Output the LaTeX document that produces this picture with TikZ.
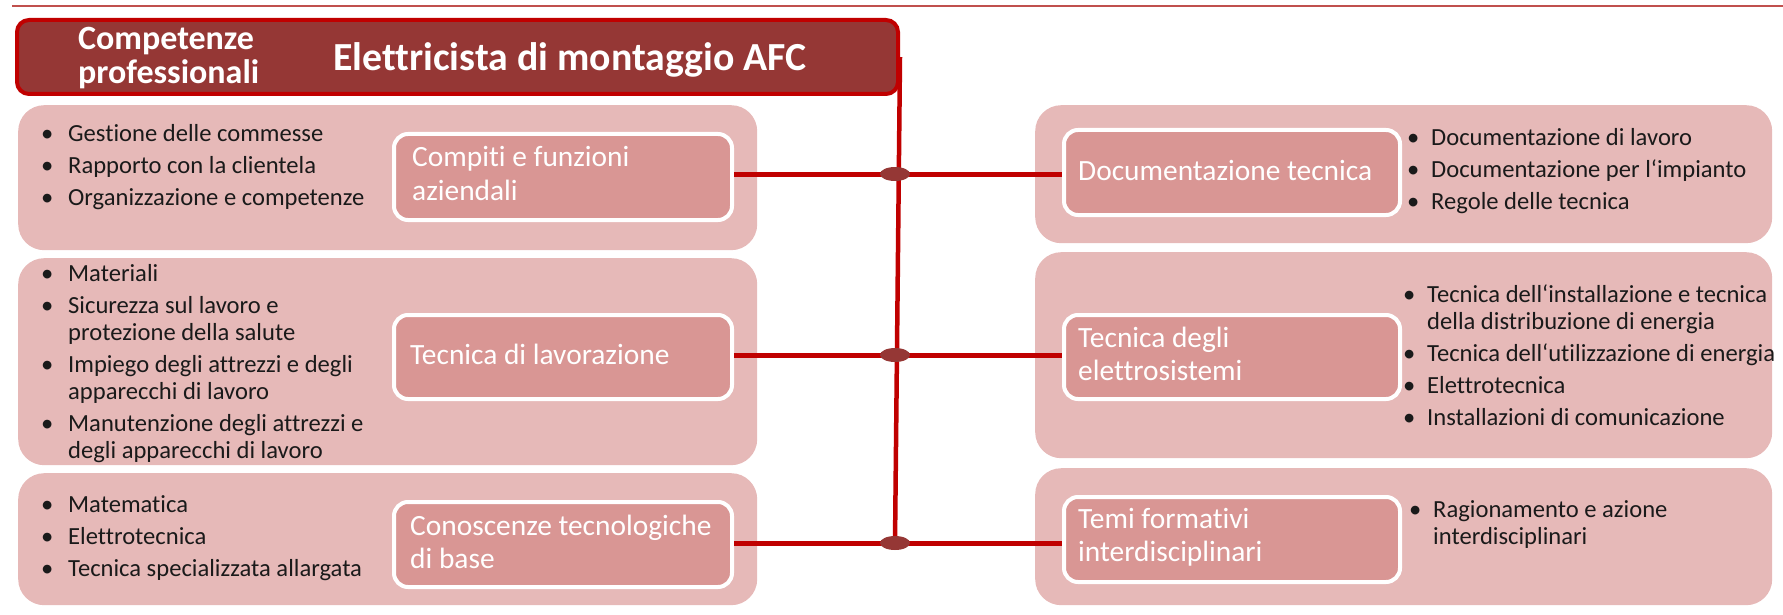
\documentclass[tikz,border=0pt]{standalone}
\usepackage{fontspec}
\setmainfont{Carlito}[Ligatures={NoCommon}]
\usetikzlibrary{shapes.geometric}
\definecolor{hdrfill}{HTML}{953735}
\definecolor{cred}{HTML}{C00000}
\definecolor{panelc}{HTML}{E6B9B8}
\definecolor{innerc}{HTML}{D99694}
\definecolor{toplinec}{HTML}{C0504D}
\definecolor{txtc}{HTML}{1A1A1A}
\newcommand{\bul}{\makebox[27pt][l]{•}}
\newcommand{\nob}{\makebox[27pt][l]{}}
\newcommand{\rbul}{\makebox[24pt][l]{•}}
\newcommand{\rnob}{\makebox[24pt][l]{}}
\begin{document}
\begin{tikzpicture}[x=1pt,y=-1pt,
  panel/.style={fill=panelc, rounded corners=26pt, inner sep=0pt, anchor=north west},
  innerbox/.style={fill=innerc, draw=white, line width=4pt, rounded corners=14pt, inner sep=0pt, anchor=north west},
  conn/.style={draw=cred, line width=5pt},
  junc/.style={ellipse, fill=hdrfill, minimum width=30pt, minimum height=14pt, inner sep=0pt},
  blist/.style={anchor=base west, inner sep=0pt, font=\fontsize{24.6}{27}\selectfont, text=txtc},
  itxt/.style={anchor=base west, inner sep=0pt, font=\fontsize{29.4}{33}\selectfont, text=white},
]
\useasboundingbox (0,0) rectangle (1783,615);
% top rule
\coordinate (tl) at (12,6);
\coordinate (tr) at (1783,6);
\draw[toplinec, line width=2pt] (tl) -- (tr);

% header
\node[fill=hdrfill, draw=cred, line width=4pt, rounded corners=12pt, inner sep=0pt, anchor=north west,
      minimum width=881pt, minimum height=74pt] (hdr) at (15,18) {};
\node[anchor=base west, inner sep=0pt, text=white, font=\fontsize{34}{32}\selectfont\bfseries] (hdrl) at (78,50)
  {\begin{tabular}[t]{@{}l@{}}Competenze\\professionali\end{tabular}};
\node[anchor=base west, inner sep=0pt, text=white, font=\fontsize{39.8}{42}\selectfont\bfseries] (hdrt) at (333,71)
  {Elettricista di montaggio AFC};

% panels
\node[panel, minimum width=739pt, minimum height=145pt] (pl1) at (18,105) {};
\node[panel, minimum width=739pt, minimum height=207pt] (pl2) at (18,258) {};
\node[panel, minimum width=739pt, minimum height=132pt] (pl3) at (18,473) {};
\node[panel, minimum width=737pt, minimum height=138pt] (pr1) at (1035,105) {};
\node[panel, minimum width=737pt, minimum height=206pt] (pr2) at (1035,252) {};
\node[panel, minimum width=737pt, minimum height=137pt] (pr3) at (1035,468) {};

% inner boxes
\node[innerbox, minimum width=338pt, minimum height=86pt] (bl1) at (392,132) {};
\node[innerbox, minimum width=338pt, minimum height=84pt] (bl2) at (392,313) {};
\node[innerbox, minimum width=338pt, minimum height=85pt] (bl3) at (392,500) {};
\node[innerbox, minimum width=336pt, minimum height=85pt] (br1) at (1062,128) {};
\node[innerbox, minimum width=336pt, minimum height=84pt] (br2) at (1062,313) {};
\node[innerbox, minimum width=336pt, minimum height=85pt] (br3) at (1062,495) {};

% inner texts
\node[itxt] (tl1) at (412,167) {\begin{tabular}[t]{@{}l@{}}Compiti e funzioni\\aziendali\end{tabular}};
\node[itxt] (tl2) at (410,364) {Tecnica di lavorazione};
\node[itxt] (tl3) at (410,535) {\begin{tabular}[t]{@{}l@{}}Conoscenze tecnologiche\\di base\end{tabular}};
\node[itxt] (tr1) at (1078,180) {Documentazione tecnica};
\node[itxt] (tr2) at (1078,347) {\begin{tabular}[t]{@{}l@{}}Tecnica degli\\elettrosistemi\end{tabular}};
\node[itxt] (tr3) at (1078,528) {\begin{tabular}[t]{@{}l@{}}Temi formativi\\interdisciplinari\end{tabular}};

% bullet lists
\node[blist] (ll1) at (41,142) {\begin{tabular}[t]{@{}l@{}l@{}}
\bul & Gestione delle commesse\\[5pt]
\bul & Rapporto con la clientela\\[5pt]
\bul & Organizzazione e competenze
\end{tabular}};
\node[blist] (ll2) at (41,281) {\begin{tabular}[t]{@{}l@{}l@{}}
\bul & Materiali\\[5pt]
\bul & Sicurezza sul lavoro e\\
\nob & protezione della salute\\[5pt]
\bul & Impiego degli attrezzi e degli\\
\nob & apparecchi di lavoro\\[5pt]
\bul & Manutenzione degli attrezzi e\\
\nob & degli apparecchi di lavoro
\end{tabular}};
\node[blist] (ll3) at (41,512) {\begin{tabular}[t]{@{}l@{}l@{}}
\bul & Matematica\\[5pt]
\bul & Elettrotecnica\\[5pt]
\bul & Tecnica specializzata allargata
\end{tabular}};
\node[blist] (lr1) at (1407,146) {\begin{tabular}[t]{@{}l@{}l@{}}
\rbul & Documentazione di lavoro\\[5pt]
\rbul & Documentazione per l‘impianto\\[5pt]
\rbul & Regole delle tecnica
\end{tabular}};
\node[blist] (lr2) at (1403,302) {\begin{tabular}[t]{@{}l@{}l@{}}
\rbul & Tecnica dell‘installazione e tecnica\\
\rnob & della distribuzione di energia\\[5pt]
\rbul & Tecnica dell‘utilizzazione di energia\\[5pt]
\rbul & Elettrotecnica\\[5pt]
\rbul & Installazioni di comunicazione
\end{tabular}};
\node[blist] (lr3) at (1409,517) {\begin{tabular}[t]{@{}l@{}l@{}}
\rbul & Ragionamento e azione\\
\rnob & interdisciplinari
\end{tabular}};

% junction positions
\coordinate (j1p) at (895,174);
\coordinate (j2p) at (895,355);
\coordinate (j3p) at (895,543);

% connectors
\draw[conn, line width=4.5pt] (hdr.east) -- (j3p);
\draw[conn] (bl1.east |- j1p) -- (br1.west |- j1p);
\draw[conn] (bl2.east |- j2p) -- (br2.west |- j2p);
\draw[conn] (bl3.east |- j3p) -- (br3.west |- j3p);
\node[junc] (j1) at (j1p) {};
\node[junc] (j2) at (j2p) {};
\node[junc] (j3) at (j3p) {};
\end{tikzpicture}
\end{document}
